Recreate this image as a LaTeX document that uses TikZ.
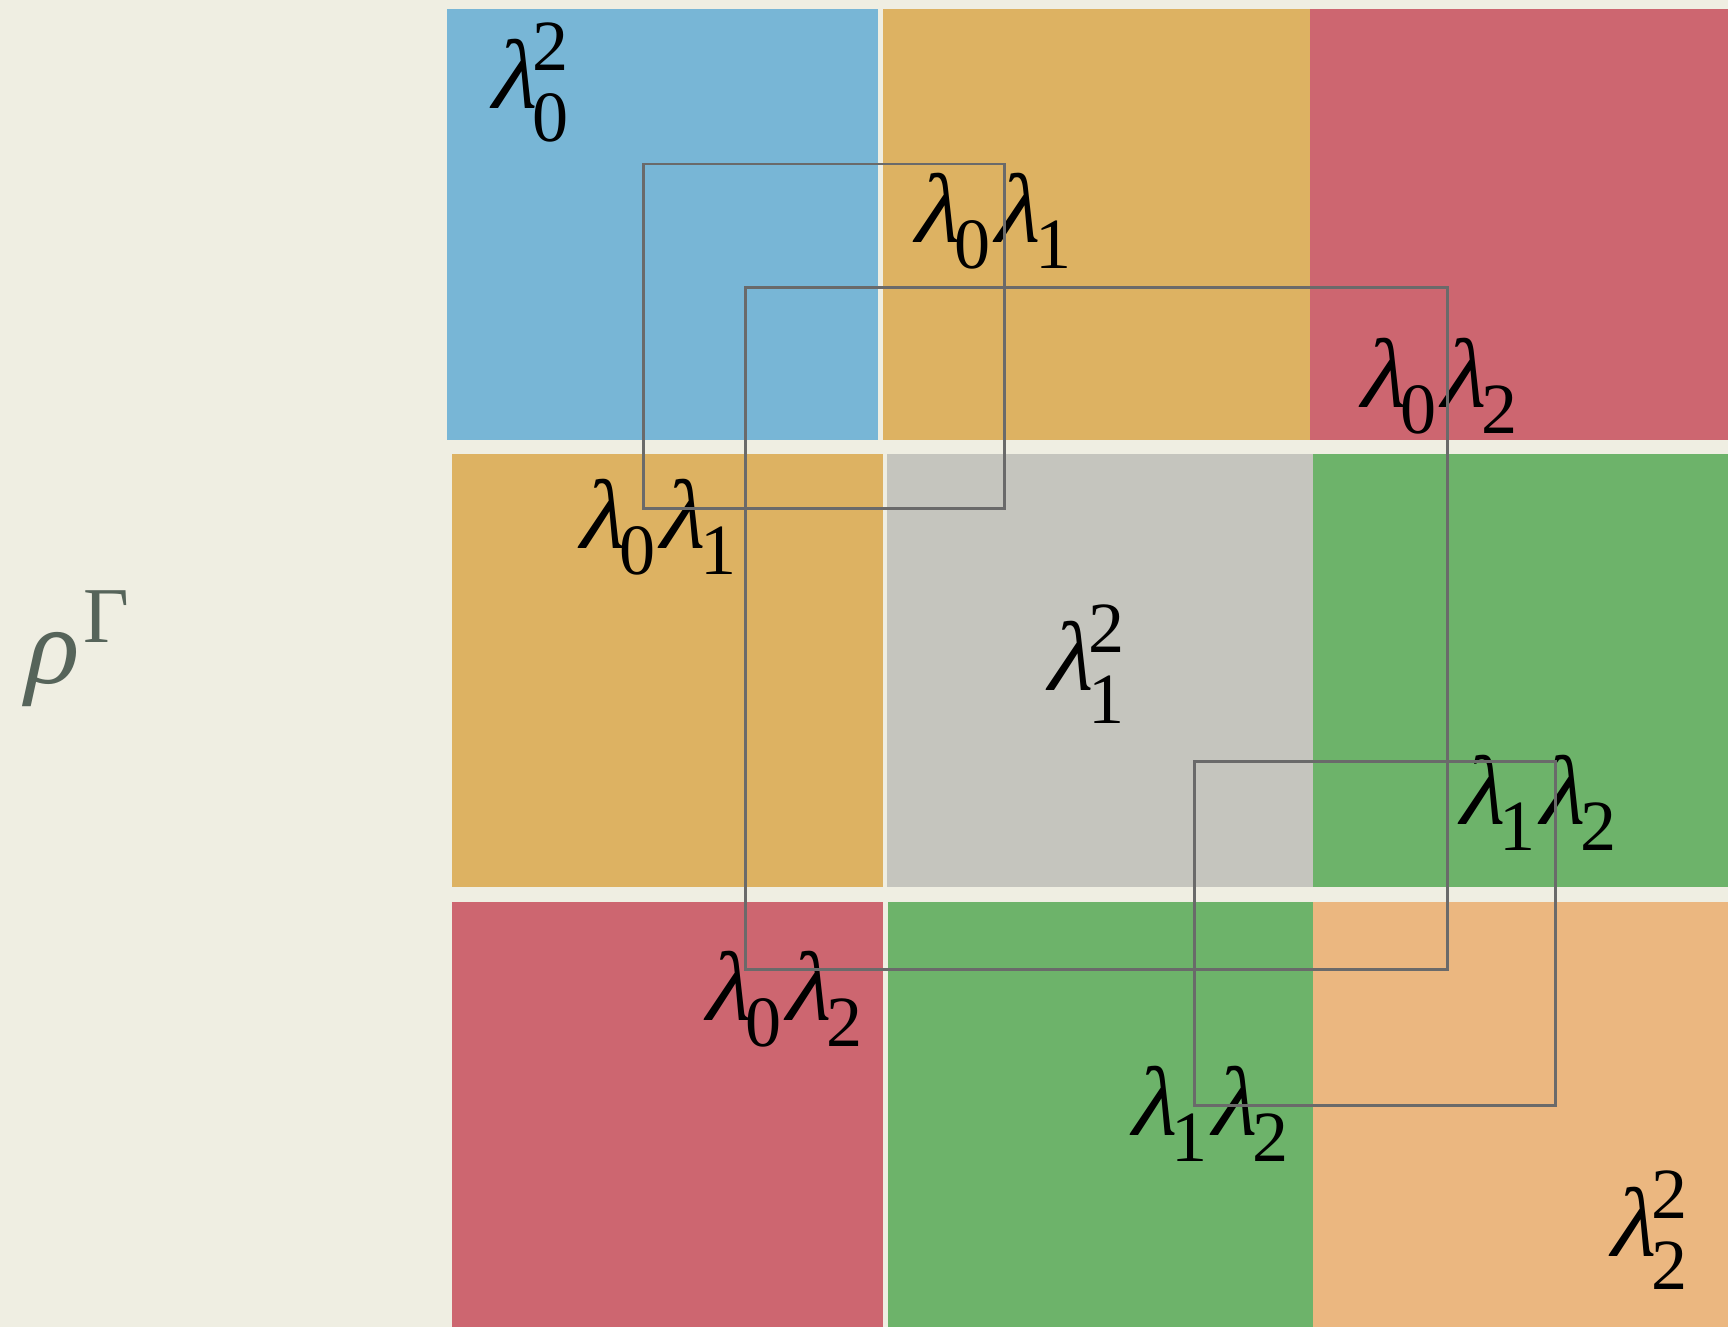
\documentclass[tikz,border=0pt]{standalone}
\usepackage{fontspec}
\setmainfont{Liberation Serif}
\newfontfamily\grk[FakeSlant=0.22]{Liberation Serif}
\definecolor{bgc}{HTML}{EFEEE2}
\definecolor{cblue}{HTML}{78B6D6}
\definecolor{cgold}{HTML}{DDB262}
\definecolor{cred}{HTML}{CD6670}
\definecolor{cgray}{HTML}{C5C5BE}
\definecolor{cgreen}{HTML}{6DB36A}
\definecolor{corange}{HTML}{EBB780}
\definecolor{cframe}{HTML}{6A6A6A}
\definecolor{crho}{HTML}{56645A}
\newcommand\smallfig[1]{{\fontsize{20.5}{20}\selectfont #1}}
% lambda with subscript
\newcommand\ls[1]{{\grk λ}\kern-0.03em\raisebox{-7.6pt}{\smallfig{#1}}}
% lambda with subscript and superscript
\newcommand\lss[2]{{\grk λ}\kern-0.02em\rlap{\raisebox{10.6pt}{\smallfig{#2}}}\raisebox{-9.5pt}{\smallfig{#1}}}
\begin{document}
\begin{tikzpicture}[x=0.01cm,y=-0.01cm,
  lab/.style={anchor=base west,inner sep=0pt,outer sep=0pt,font=\fontsize{28}{32}\selectfont,text=black},
  frame/.style={draw=cframe,line width=0.85pt}]
\fill[bgc] (0,0) rectangle (1728,1327);
\useasboundingbox (0,0) rectangle (1728,1327);
% row 1
\fill[cblue] (447,9) rectangle (878,440);
\fill[cgold] (883,9) rectangle (1310,440);
\fill[cred] (1310,9) rectangle (1728,440);
% row 2
\fill[cgold] (452,454) rectangle (883,887);
\fill[cgray] (887,454) rectangle (1313,887);
\fill[cgreen] (1313,454) rectangle (1728,887);
% row 3
\fill[cred] (452,902) rectangle (883,1327);
\fill[cgreen] (888,902) rectangle (1313,1327);
\fill[corange] (1313,902) rectangle (1728,1327);
% labels
\node[lab,text=crho,font=\fontsize{31}{34}\selectfont] (rho) at (20,683)
  {{\grk ρ}\kern0.08em\raisebox{11.6pt}{\fontsize{22.5}{24}\selectfont Γ}};
\node[lab] (l00) at (487,108) {\lss{0}{2}};
\node[lab] (l01a) at (910,242) {\ls{0}\ls{1}};
\node[lab] (l02a) at (1356,407) {\ls{0}\ls{2}};
\node[lab] (l01b) at (575,548) {\ls{0}\ls{1}};
\node[lab] (l11) at (1043,690) {\lss{1}{2}};
\node[lab] (l12a) at (1455,824) {\ls{1}\ls{2}};
\node[lab] (l02b) at (701,1020) {\ls{0}\ls{2}};
\node[lab] (l12b) at (1127,1135) {\ls{1}\ls{2}};
\node[lab] (l22) at (1606,1256) {\lss{2}{2}};
% frames
\draw[frame] (643,164) rectangle (1004,508);
\draw[frame] (745,287) rectangle (1447,969);
\draw[frame] (1194,761) rectangle (1555,1105);
\end{tikzpicture}
\end{document}
